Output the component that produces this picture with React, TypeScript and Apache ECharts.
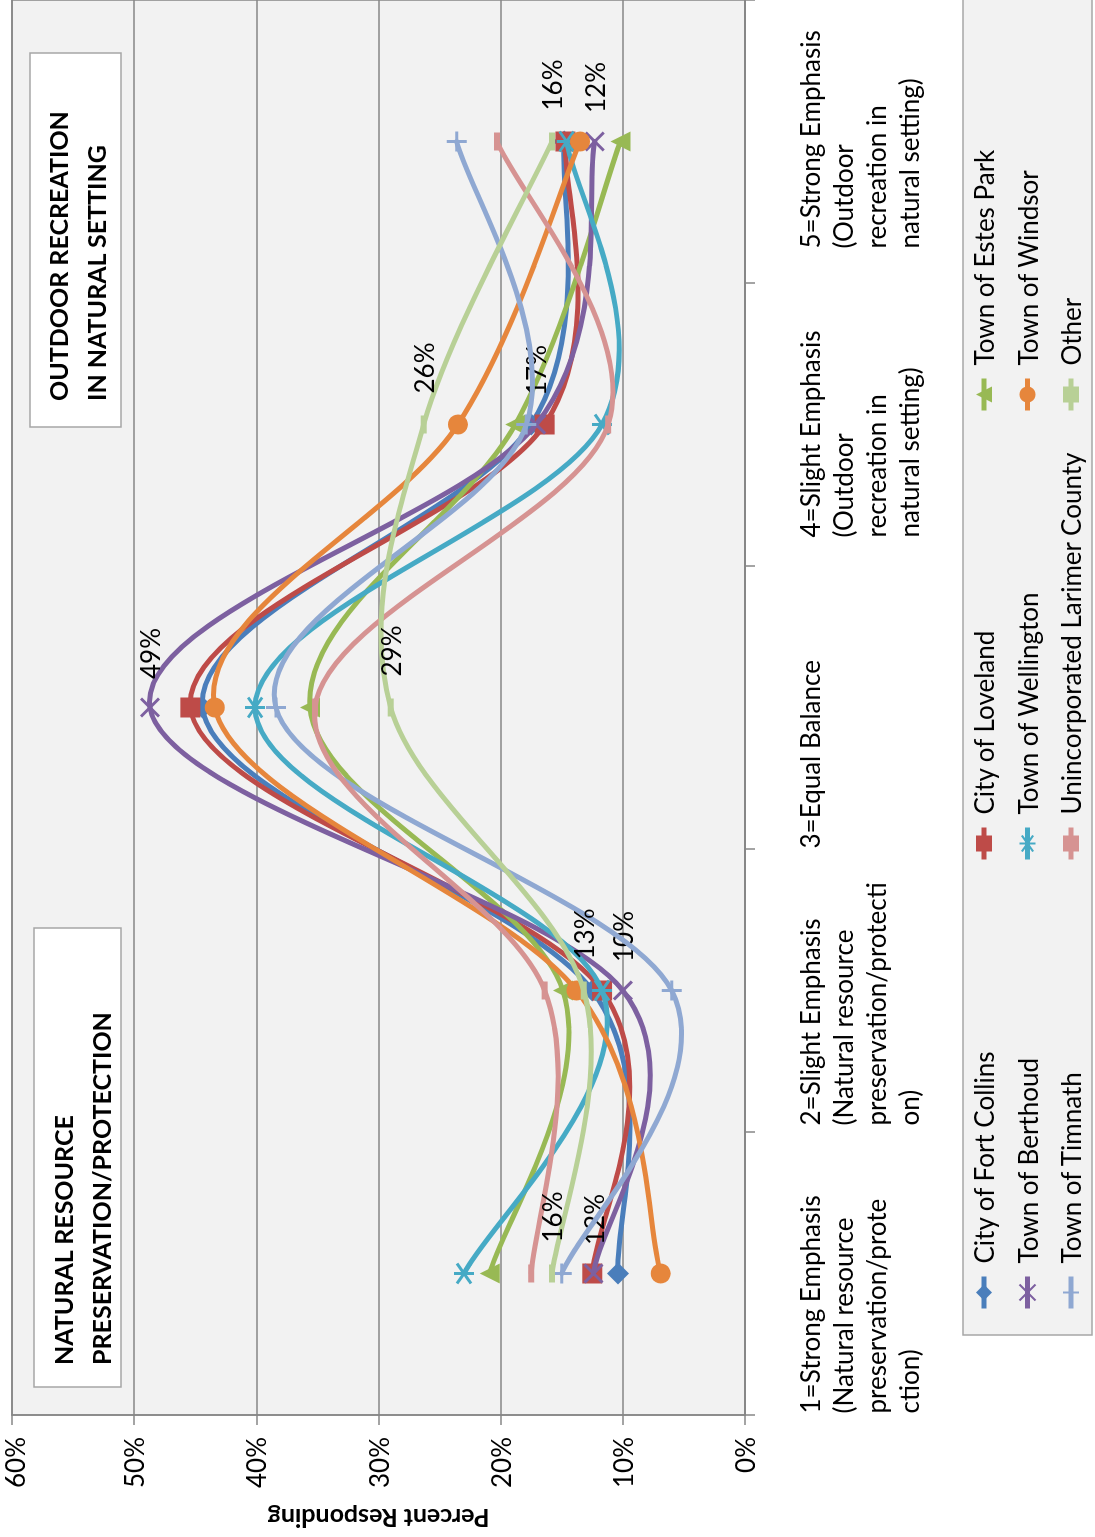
import React, { useEffect, useRef } from "react";
import * as echarts from "echarts";

const categories = [
  "1=Strong Emphasis\n(Natural resource\npreservation/prote\nction)",
  "2=Slight Emphasis\n(Natural resource\npreservation/protecti\non)",
  "3=Equal Balance",
  "4=Slight Emphasis\n(Outdoor\nrecreation in\nnatural setting)",
  "5=Strong Emphasis\n(Outdoor\nrecreation in\nnatural setting)",
];

const fortCollins = [10.4, 12.5, 44.4, 17.5, 14.8];
const loveland = [12.5, 11.7, 45.4, 16.4, 14.7];
const estesPark = [20.9, 14.9, 35.6, 18.8, 10.2];
const berthoud = [12.4, 10.0, 48.7, 17.1, 12.3];
const wellington = [23.0, 11.7, 40.1, 11.7, 14.6];
const windsor = [6.9, 13.8, 43.4, 23.5, 13.5];
const timnath = [15.0, 6.0, 38.4, 17.9, 23.6];
const unincorporated = [17.5, 16.4, 35.2, 11.2, 20.3];
const other = [15.8, 13.2, 29.0, 26.3, 15.8];

const leftNote = ["NATURAL RESOURCE", "PRESERVATION/PROTECTION"];
const rightNote = ["OUTDOOR RECREATION", "IN NATURAL SETTING"];
const axisTitle = "Percent Responding";

// label block widths (text is left-aligned inside a box centred on its category)
const labelBoxWidths = [280, 270, 282, 226, 214];

const X_PATH = "path://M0,0L10,10M10,0L0,10";
const STAR_PATH = "path://M1.5,1.5L8.5,8.5M8.5,1.5L1.5,8.5M5,0L5,10";
const PLUS_PATH = "path://M5,0L5,10M0,5L10,5";

type S = {
  name: string;
  data: number[];
  color: string;
  symbol: string;
  size: number | number[];
  stroke?: boolean;
  labels?: boolean;
  labelDist?: number;
};

const seriesDefs: S[] = [
  { name: "City of Fort Collins", data: fortCollins, color: "#4A7EBB", symbol: "diamond", size: 22 },
  { name: "City of Loveland", data: loveland, color: "#BE4B48", symbol: "rect", size: 20 },
  { name: "Town of Estes Park", data: estesPark, color: "#98B954", symbol: "triangle", size: 20 },
  { name: "Town of Berthoud", data: berthoud, color: "#7D60A0", symbol: X_PATH, size: 18, stroke: true, labels: true, labelDist: 18 },
  { name: "Town of Wellington", data: wellington, color: "#46AAC5", symbol: STAR_PATH, size: 20, stroke: true },
  { name: "Town of Windsor", data: windsor, color: "#E6863C", symbol: "circle", size: 20 },
  { name: "Town of Timnath", data: timnath, color: "#8FA8D2", symbol: PLUS_PATH, size: 20, stroke: true },
  { name: "Unincorporated Larimer County", data: unincorporated, color: "#D69392", symbol: "rect", size: [18, 6] },
  { name: "Other", data: other, color: "#B8D096", symbol: "rect", size: [18, 6], labels: true, labelDist: 22 },
];

const FONT = "Lato";
const GRAY = "#868686";

// Smoothed curve (Catmull-Rom style Bezier, as the spreadsheet draws it) through the
// series' own points, converted to pixels by the chart's axes.
function curveSeries(s: S, i: number) {
  return {
    type: "custom",
    name: s.name + " (curve)",
    coordinateSystem: "cartesian2d",
    data: [[0, s.data[0]]],
    z: 2 + i * 2,
    silent: true,
    clip: false,
    renderItem: (_params: any, api: any) => {
      const pts: number[][] = s.data.map((v, k) => api.coord([k, v]));
      const n = pts.length;
      let d = "M" + pts[0][0] + "," + pts[0][1];
      for (let k = 0; k < n - 1; k++) {
        const p0 = pts[Math.max(k - 1, 0)];
        const p1 = pts[k];
        const p2 = pts[k + 1];
        const p3 = pts[Math.min(k + 2, n - 1)];
        const c1x = p1[0] + (p2[0] - p0[0]) / 6;
        const c1y = p1[1] + (p2[1] - p0[1]) / 6;
        const c2x = p2[0] - (p3[0] - p1[0]) / 6;
        const c2y = p2[1] - (p3[1] - p1[1]) / 6;
        d += " C" + c1x + "," + c1y + " " + c2x + "," + c2y + " " + p2[0] + "," + p2[1];
      }
      return {
        type: "path",
        shape: { pathData: d },
        style: { fill: "none", stroke: s.color, lineWidth: 5, lineCap: "round", lineJoin: "round" },
      };
    },
  };
}

function markerSeries(s: S, i: number) {
  return {
    name: s.name,
    type: "line",
    data: s.data,
    z: 3 + i * 2,
    symbol: s.symbol,
    symbolSize: s.size,
    showSymbol: true,
    lineStyle: { color: s.color, width: 5, opacity: 0 },
    itemStyle: s.stroke
      ? { color: s.color, borderColor: s.color, borderWidth: 3 }
      : { color: s.color, borderWidth: 0 },
    label: s.labels
      ? {
          show: true,
          position: "right",
          distance: s.labelDist,
          fontSize: 26,
          fontFamily: FONT,
          color: "#000",
          formatter: (p: any) => Math.round(p.value) + "%",
        }
      : { show: false },
    emphasis: { disabled: true },
    silent: true,
  };
}

function buildOption() {
  const series: any[] = [];
  seriesDefs.forEach((s, i) => {
    series.push(curveSeries(s, i));
    series.push(markerSeries(s, i));
  });
  const catRich: any = {};
  labelBoxWidths.forEach((w, i) => {
    catRich["c" + i] = { align: "left", width: w, fontSize: 26, lineHeight: 33, fontFamily: FONT, color: "#000" };
  });
  return {
    animation: false,
    backgroundColor: "#ffffff",
    textStyle: { fontFamily: FONT, color: "#000" },
    grid: {
      left: 122,
      right: 23,
      top: 12,
      bottom: 350,
      containLabel: false,
      outerBoundsMode: "none",
      show: true,
      backgroundColor: "#f2f2f2",
      borderColor: GRAY,
      borderWidth: 1.5,
    },
    xAxis: {
      type: "category",
      data: categories,
      boundaryGap: true,
      axisLine: { show: true, lineStyle: { color: GRAY, width: 1.5 } },
      axisTick: { show: true, length: 10, lineStyle: { color: GRAY, width: 1.5 } },
      axisLabel: {
        interval: 0,
        margin: 48,
        fontSize: 26,
        lineHeight: 33,
        color: "#000",
        fontFamily: FONT,
        formatter: (v: string, idx: number) => "{c" + idx + "|" + v + "}",
        rich: catRich,
      },
      splitLine: { show: false },
    },
    yAxis: {
      type: "value",
      min: 0,
      max: 60,
      interval: 10,
      name: axisTitle,
      nameLocation: "middle",
      nameGap: 92,
      nameRotate: 90,
      nameTextStyle: { fontSize: 25, fontWeight: "bold", fontFamily: FONT, color: "#000" },
      axisLine: { show: true, lineStyle: { color: GRAY, width: 1.5 } },
      axisTick: { show: true, length: 10, lineStyle: { color: GRAY, width: 1.5 } },
      axisLabel: {
        formatter: (v: number) => (v === 60 ? "{t|" + v + "%}" : v + "%"),
        fontSize: 26,
        lineHeight: 22,
        margin: 22,
        color: "#000",
        fontFamily: FONT,
        rich: { t: { fontSize: 26, lineHeight: 22, padding: [6, 0, 0, 0], fontFamily: FONT, color: "#000" } },
      },
      splitLine: { show: true, lineStyle: { color: GRAY, width: 1.5 } },
    },
    legend: {
      show: true,
      orient: "horizontal",
      left: 202,
      top: 963,
      width: 1400,
      padding: [5, 24, 5, 24],
      itemGap: 11.5,
      itemWidth: 32,
      itemHeight: 20,
      backgroundColor: "#f2f2f2",
      borderColor: "#a6a6a6",
      borderWidth: 1.5,
      lineStyle: { opacity: 1, width: 5 },
      textStyle: { fontSize: 26, fontFamily: FONT, color: "#000", width: 390, lineHeight: 32, padding: [0, 0, 0, 8] },
      data: seriesDefs.map((s) => s.name),
    },
    graphic: [
      {
        type: "rect",
        x: 150,
        y: 34,
        shape: { width: 459, height: 87 },
        style: { fill: "#ffffff", stroke: "#a6a6a6", lineWidth: 1.5 },
        z: 100,
      },
      {
        type: "text",
        x: 172,
        y: 44,
        style: { text: leftNote.join("\n"), font: "bold 25px Lato", lineHeight: 38, fill: "#000", align: "left", verticalAlign: "top" },
        z: 101,
      },
      {
        type: "rect",
        x: 1110,
        y: 30,
        shape: { width: 374, height: 91 },
        style: { fill: "#ffffff", stroke: "#a6a6a6", lineWidth: 1.5 },
        z: 100,
      },
      {
        type: "text",
        x: 1136,
        y: 39,
        style: { text: rightNote.join("\n"), font: "bold 25px Lato", lineHeight: 38, fill: "#000", align: "left", verticalAlign: "top" },
        z: 101,
      },
    ],
    series,
  };
}

export default function App() {
  const ref = useRef<HTMLDivElement>(null);
  useEffect(() => {
    if (!ref.current) return;
    const chart = echarts.init(ref.current, null, { renderer: "svg" });
    chart.setOption(buildOption() as any);
    return () => chart.dispose();
  }, []);
  return (
    <div
      ref={ref}
      style={{
        position: "fixed",
        left: 0,
        top: 0,
        width: 1560,
        height: 1095,
        transformOrigin: "0 0",
        transform: "translate(0px, 1537px) rotate(-90deg)",
        background: "#ffffff",
      }}
    />
  );
}
